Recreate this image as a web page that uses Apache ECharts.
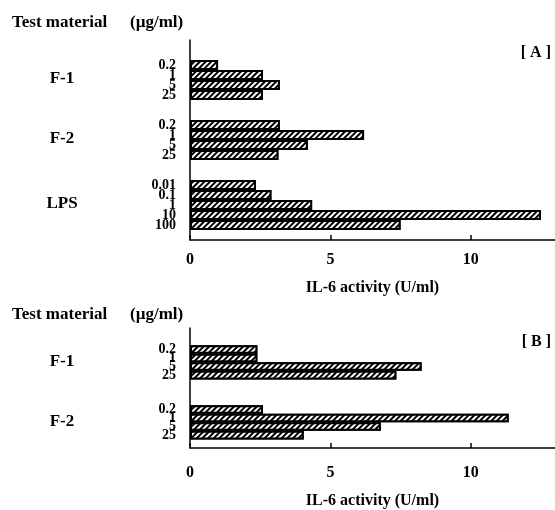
<!DOCTYPE html>
<html>
<head>
<meta charset="utf-8">
<script src="https://cdn.jsdelivr.net/npm/echarts@6/dist/echarts.min.js"></script>
<style>
  html, body { margin: 0; background: #fff; }
  #main { width: 555px; height: 510px; }
</style>
</head>
<body>
<div id="main"></div>
<script>
// concentrations (ug/ml)
var concF = ['0.2', '1', '5', '25'];
var concLPS = ['0.01', '0.1', '1', '10', '100'];
var xTicks = [0, 5, 10];

// panel A - IL-6 activity (U/ml)
var aF1 = [1.0, 2.6, 3.2, 2.6];
var aF2 = [3.2, 6.2, 4.2, 3.15];
var aLPS = [2.35, 2.9, 4.35, 12.5, 7.5];

// panel B
var bF1 = [2.4, 2.4, 8.25, 7.35];
var bF2 = [2.6, 11.35, 6.8, 4.05];

var serif = '"Liberation Serif", "DejaVu Serif", serif';

// builds category list with blank slots between groups
function build(groups, padTop, gap, padBottom) {
  var cats = [], vals = [], spans = [];
  var k = 0;
  function blank() { cats.push('gap' + (k++)); vals.push('-'); }
  for (var i = 0; i < padTop; i++) blank();
  groups.forEach(function (g, gi) {
    if (gi > 0) for (var j = 0; j < gap; j++) blank();
    g.conc.forEach(function (c, ci) {
      cats.push(g.name + '|' + c);
      vals.push(g.values[ci]);
    });
    spans.push({ name: g.name, first: g.name + '|' + g.conc[0], last: g.name + '|' + g.conc[g.conc.length - 1] });
  });
  for (var i = 0; i < padBottom; i++) blank();
  return { cats: cats, vals: vals, spans: spans };
}

var A = build([
  { name: 'F-1', conc: concF, values: aF1 },
  { name: 'F-2', conc: concF, values: aF2 },
  { name: 'LPS', conc: concLPS, values: aLPS }
], 2, 2, 1);

var B = build([
  { name: 'F-1', conc: concF, values: bF1 },
  { name: 'F-2', conc: concF, values: bF2 }
], 2, 3, 1);

function xAxis(gi, margin, gap) {
  return {
    type: 'value', gridIndex: gi, min: 0, max: 13, interval: 5,
    splitLine: { show: false },
    axisLine: { show: true, lineStyle: { color: '#000', width: 1.5 } },
    axisTick: { show: true, inside: true, length: 5, lineStyle: { color: '#000', width: 1.5 } },
    axisLabel: { showMaxLabel: false, margin: margin, fontSize: 16, fontFamily: serif, fontWeight: 'bold', color: '#000',
      formatter: function (v) { return xTicks.indexOf(v) >= 0 ? String(v) : ''; } },
    name: 'IL-6 activity (U/ml)', nameLocation: 'middle', nameGap: gap,
    nameTextStyle: { fontSize: 16, fontFamily: serif, fontWeight: 'bold', color: '#000' }
  };
}

function yAxis(gi, cats) {
  return {
    type: 'category', gridIndex: gi, data: cats, inverse: true,
    axisLine: { show: true, lineStyle: { color: '#000', width: 1.5 } },
    axisTick: { show: false },
    axisLabel: { interval: 0, margin: 14, fontSize: 14, fontFamily: serif, fontWeight: 'bold', color: '#000',
      formatter: function (v) { return v.indexOf('|') > 0 ? v.split('|')[1] : ''; } }
  };
}

var hatch = {
  color: '#000', backgroundColor: '#fff',
  symbol: 'rect', symbolSize: 1,
  dashArrayX: [1, 0], dashArrayY: [2, 1.2],
  rotation: -Math.PI / 4
};

function bars(gi, vals) {
  return {
    type: 'bar', xAxisIndex: gi, yAxisIndex: gi, data: vals,
    barCategoryGap: '0%', silent: true,
    itemStyle: { color: '#fff', borderColor: '#000', borderWidth: 2, decal: hatch }
  };
}

function head(text, left, top, size) {
  return { text: text, left: left, top: top, padding: 0,
    textStyle: { fontFamily: serif, fontWeight: 'bold', color: '#000', fontSize: size } };
}

var chart = echarts.init(document.getElementById('main'));
chart.setOption({
  animation: false,
  backgroundColor: '#fff',
  title: [
    head('Test material', 12, 14, 17),
    head('(µg/ml)', 130, 14, 17),
    { text: '[ A ]', right: 4, top: 45, padding: 0, textStyle: { fontFamily: serif, fontWeight: 'bold', color: '#000', fontSize: 16 } },
    head('Test material', 12, 306, 17),
    head('(µg/ml)', 130, 306, 17),
    { text: '[ B ]', right: 4, top: 334, padding: 0, textStyle: { fontFamily: serif, fontWeight: 'bold', color: '#000', fontSize: 16 } }
  ],
  grid: [
    { left: 190, top: 40, width: 368, height: 200 },
    { left: 190, top: 328, width: 368, height: 129 }
  ],
  xAxis: [xAxis(0, 12, 40), xAxis(1, 17, 45)],
  yAxis: [yAxis(0, A.cats), yAxis(1, B.cats)],
  series: [bars(0, A.vals), bars(1, B.vals)]
});

// group names centred on their block of bars
var labels = [];
[[A, 0], [B, 1]].forEach(function (p) {
  p[0].spans.forEach(function (s) {
    var y1 = chart.convertToPixel({ yAxisIndex: p[1] }, s.first);
    var y2 = chart.convertToPixel({ yAxisIndex: p[1] }, s.last);
    labels.push({
      type: 'text', x: 62, y: (y1 + y2) / 2 - 1,
      style: { text: s.name, fill: '#000', font: 'bold 17px ' + serif, textAlign: 'center', textVerticalAlign: 'middle' }
    });
  });
});
chart.setOption({ graphic: labels });
</script>
</body>
</html>
